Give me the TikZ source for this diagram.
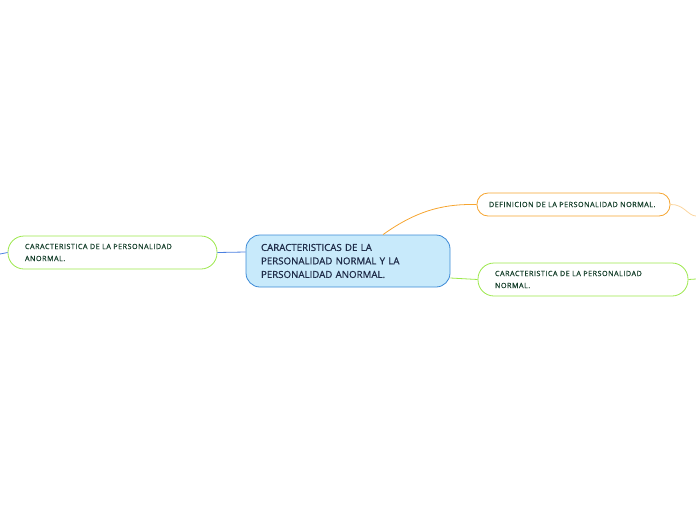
\documentclass[tikz,border=0pt]{standalone}
\usepackage{fontspec}
\setmainfont{Open Sans}
\newfontfamily\topicfont[FakeBold=0.6]{Open Sans}
\newfontfamily\subfont[FakeBold=0.4,LetterSpace=7]{Open Sans}
\usetikzlibrary{positioning}

\definecolor{mainfill}{HTML}{C8EAFB}
\definecolor{mainline}{HTML}{3C8AD6}
\definecolor{maintext}{HTML}{1E2B48}
\definecolor{subtext}{HTML}{123D28}
\definecolor{orangeline}{HTML}{F6A530}
\definecolor{paleorange}{HTML}{FBD59E}
\definecolor{greenline}{HTML}{9CE84C}
\definecolor{blueline}{HTML}{4C80E0}

\tikzset{
  topic/.style={draw=mainline,fill=mainfill,line width=.8pt,rounded corners=14pt,
    inner xsep=15pt,inner ysep=0pt,minimum height=52pt,text width=174pt,align=left,
    text=maintext,font=\topicfont\fontsize{9.7}{13.5}\selectfont},
  subtopic/.style={draw=#1,fill=white,line width=.8pt,inner xsep=17pt,inner ysep=0pt,
    minimum height=33pt,rounded corners=16pt,text width=175pt,align=left,
    text=subtext,font=\subfont\fontsize{7.2}{12}\selectfont},
  link/.style={line width=.8pt}
}

\begin{document}
\begin{tikzpicture}[x=1pt,y=-1pt]
\useasboundingbox (0,0) rectangle (696,520);
% central topic
\node[topic] (main) at (348,261) {CARACTERISTICAS DE LA\\PERSONALIDAD NORMAL Y LA\\PERSONALIDAD ANORMAL.};
% subtopics
\node[subtopic=greenline] (anormal) at (112.5,252.5) {CARACTERISTICA DE LA PERSONALIDAD\\ANORMAL.};
\node[subtopic=orangeline,minimum height=23pt,rounded corners=11pt,inner xsep=12pt,text width=169pt] (defin) at (573.5,204.5) {DEFINICION DE LA PERSONALIDAD NORMAL.};
\node[subtopic=greenline,text width=176pt] (normal) at (583,279.5) {CARACTERISTICA DE LA PERSONALIDAD\\NORMAL.};
% free ends outside the page
\coordinate (anormalend) at (0,254);
\coordinate (definend) at (696,216);
\coordinate (normalend) at (696,279);
% connectors
\draw[link,blueline] (anormal.east) -- ([yshift=9pt]main.west);
\draw[link,blueline] (anormal.west) -- (anormalend);
\draw[link,orangeline] ([xshift=35pt]main.north) .. controls (420,208) and (448,204) .. (defin.west);
\draw[link,paleorange] (defin.east) .. controls (684,204) and (688,216) .. (definend);
\draw[link,greenline] ([yshift=-17pt]main.east) -- (normal.west);
\draw[link,greenline] (normal.east) -- (normalend);
\end{tikzpicture}
\end{document}
